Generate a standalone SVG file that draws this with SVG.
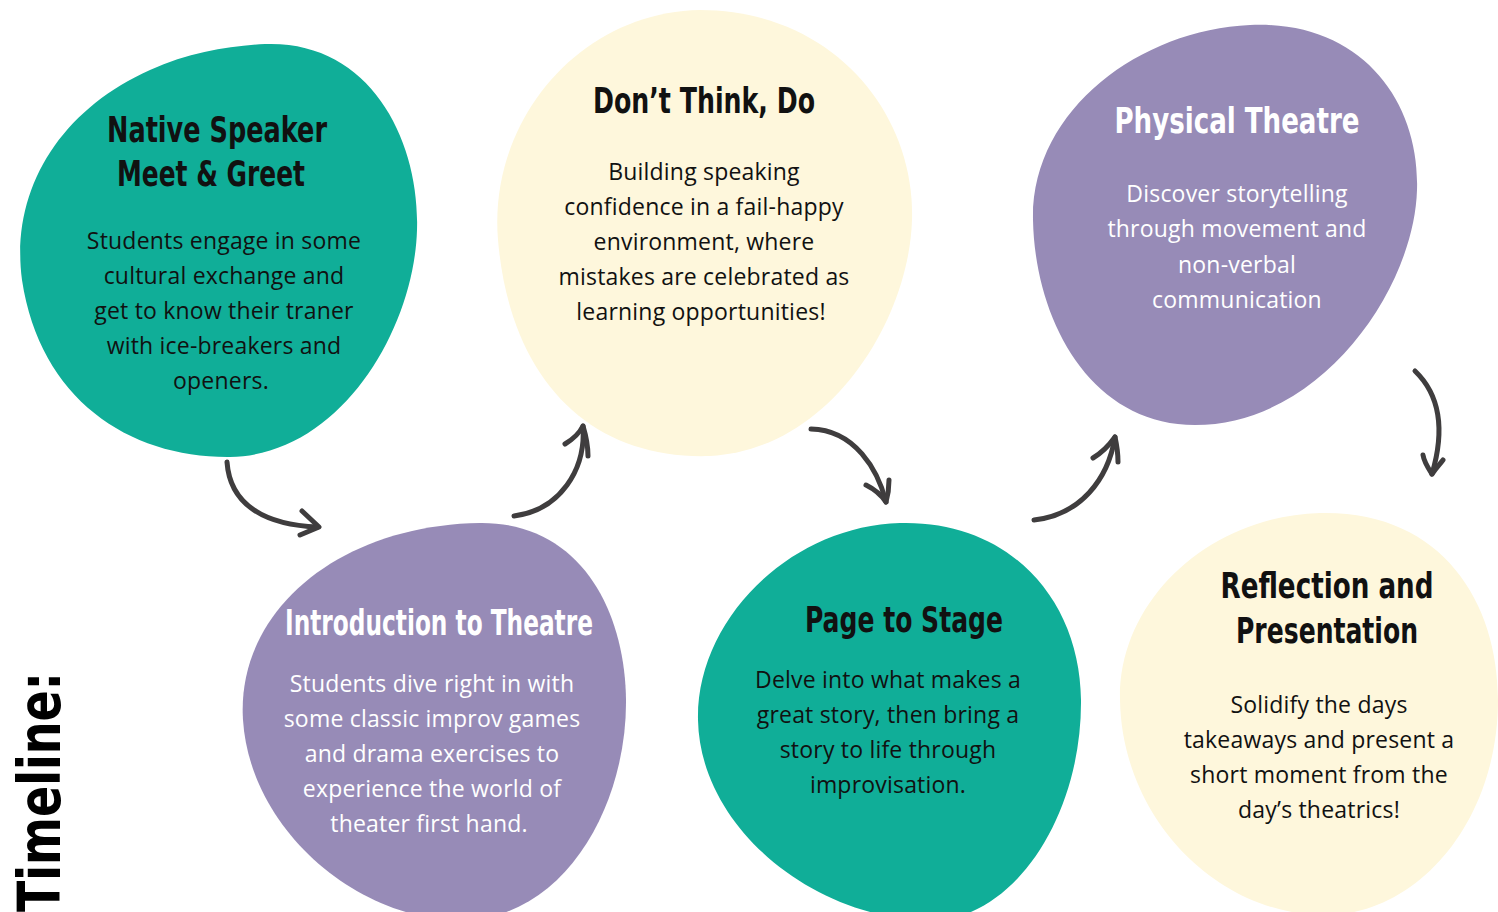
<svg xmlns="http://www.w3.org/2000/svg" width="1498" height="912" viewBox="0 0 1498 912">
<style>
.teal{fill:#10ae98}
.purple{fill:#978bb7}
.cream{fill:#fef7dc}
.title{font-family:"DejaVu Sans Condensed","DejaVu Sans",sans-serif;font-weight:bold;font-stretch:condensed;font-size:35px;text-anchor:middle}
.body{font-family:"Open Sans","Noto Sans",sans-serif;font-size:23px;text-anchor:middle;letter-spacing:0.2px}
.dark{fill:#111111}
.light{fill:#ffffff}
.arrow{fill:none;stroke:#3f3d3e;stroke-width:5;stroke-linecap:round;stroke-linejoin:round}
</style>
<rect width="1498" height="912" fill="#ffffff"/>

<g id="node-native-speaker">
<path class="teal" d="M 265,44 C 370,40 420,140 417,230 C 414,330 340,455 230,457 C 130,458 40,400 22,280 C 10,190 60,110 150,70 C 190,52 230,46 265,44 Z"/>
<text class="title dark" x="217" y="142" textLength="220" lengthAdjust="spacingAndGlyphs">Native Speaker</text>
<text class="title dark" x="211" y="186" textLength="188" lengthAdjust="spacingAndGlyphs">Meet &amp; Greet</text>
<text class="body dark" x="224" y="249">Students engage in some</text>
<text class="body dark" x="224" y="284">cultural exchange and</text>
<text class="body dark" x="224" y="319">get to know their traner</text>
<text class="body dark" x="224" y="354">with ice-breakers and</text>
<text class="body dark" x="221" y="389">openers.</text>
</g>

<g id="node-dont-think">
<path class="cream" d="M 700,10 C 830,10 915,110 912,220 C 909,320 830,450 710,456 C 590,460 510,380 498,240 C 488,120 580,12 700,10 Z"/>
<text class="title dark" x="704" y="113" textLength="222" lengthAdjust="spacingAndGlyphs">Don’t Think, Do</text>
<text class="body dark" x="704" y="180">Building speaking</text>
<text class="body dark" x="704" y="215">confidence in a fail-happy</text>
<text class="body dark" x="704" y="250">environment, where</text>
<text class="body dark" x="704" y="285">mistakes are celebrated as</text>
<text class="body dark" x="701" y="320">learning opportunities!</text>
</g>

<g id="node-physical-theatre">
<path class="purple" d="M 1250,25 C 1360,20 1420,100 1417,190 C 1414,290 1320,425 1195,425 C 1090,425 1035,320 1033,220 C 1031,110 1140,30 1250,25 Z"/>
<text class="title light" x="1237" y="133" textLength="245" lengthAdjust="spacingAndGlyphs">Physical Theatre</text>
<text class="body light" x="1237" y="202">Discover storytelling</text>
<text class="body light" x="1237" y="237">through movement and</text>
<text class="body light" x="1237" y="273">non-verbal</text>
<text class="body light" x="1237" y="308">communication</text>
</g>

<g id="node-intro-theatre">
<path class="purple" d="M 480,523 C 580,522 625,610 626,700 C 627,800 570,912 470,920 C 360,925 250,830 243,720 C 236,610 340,525 480,523 Z"/>
<text class="title light" x="439" y="635" textLength="308" lengthAdjust="spacingAndGlyphs">Introduction to Theatre</text>
<text class="body light" x="432" y="692">Students dive right in with</text>
<text class="body light" x="432" y="727">some classic improv games</text>
<text class="body light" x="432" y="762">and drama exercises to</text>
<text class="body light" x="432" y="797">experience the world of</text>
<text class="body light" x="429" y="832">theater first hand.</text>
</g>

<g id="node-page-to-stage">
<path class="teal" d="M 900,523 C 1010,520 1080,600 1081,700 C 1082,810 1020,912 940,920 C 820,925 700,830 698,720 C 696,620 790,526 900,523 Z"/>
<text class="title dark" x="904" y="632" textLength="198" lengthAdjust="spacingAndGlyphs">Page to Stage</text>
<text class="body dark" x="888" y="688">Delve into what makes a</text>
<text class="body dark" x="888" y="723">great story, then bring a</text>
<text class="body dark" x="888" y="758">story to life through</text>
<text class="body dark" x="888" y="793">improvisation.</text>
</g>

<g id="node-reflection">
<path class="cream" d="M 1320,513 C 1440,510 1498,600 1498,700 C 1498,820 1420,912 1330,915 C 1220,918 1122,820 1120,700 C 1118,600 1210,516 1320,513 Z"/>
<text class="title dark" x="1327" y="598" textLength="213" lengthAdjust="spacingAndGlyphs">Reflection and</text>
<text class="title dark" x="1327" y="643" textLength="182" lengthAdjust="spacingAndGlyphs">Presentation</text>
<text class="body dark" x="1319" y="713">Solidify the days</text>
<text class="body dark" x="1319" y="748">takeaways and present a</text>
<text class="body dark" x="1319" y="783">short moment from the</text>
<text class="body dark" x="1319" y="818">day’s theatrics!</text>
</g>

<g id="connectors">
<path class="arrow" d="M 227,462 C 230,505 265,525 318,527"/>
<path class="arrow" d="M 302,511 L 319,527 L 300,535"/>
<path class="arrow" d="M 514,516 C 560,510 586,470 583,426"/>
<path class="arrow" d="M 565,444 C 575,438 580,432 583,426 C 586,436 588,448 588,456"/>
<path class="arrow" d="M 811,429 C 855,430 878,470 886,502"/>
<path class="arrow" d="M 866,485 C 876,490 882,496 886,502 C 888,495 889,487 889,480"/>
<path class="arrow" d="M 1034,520 C 1080,515 1108,480 1115,437"/>
<path class="arrow" d="M 1093,458 C 1103,452 1110,444 1115,437 C 1117,446 1118,455 1118,462"/>
<path class="arrow" d="M 1415,371 C 1440,395 1445,430 1432,474"/>
<path class="arrow" d="M 1423,455 C 1424,462 1428,468 1432,474 C 1436,468 1440,464 1443,460"/>
</g>

<text x="60" y="912" transform="rotate(-90 60 912)" font-family="'DejaVu Sans',sans-serif" font-weight="bold" font-size="58" fill="#000000" textLength="240" lengthAdjust="spacingAndGlyphs">Timeline:</text>
</svg>
